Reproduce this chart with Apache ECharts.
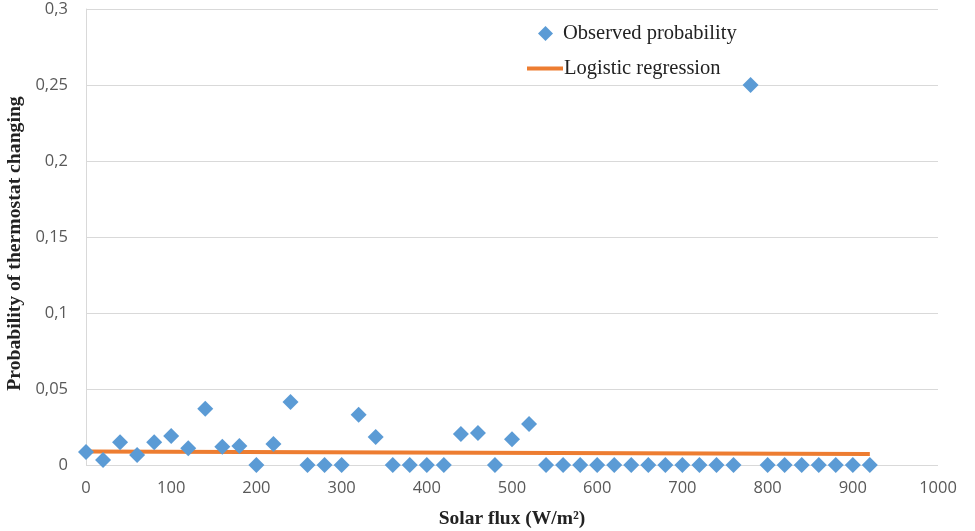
<!DOCTYPE html>
<html>
<head>
<meta charset="utf-8">
<script src="https://cdn.jsdelivr.net/npm/echarts@6/dist/echarts.min.js"></script>
<style>html,body{margin:0;padding:0;background:#fff}#c{width:975px;height:531px}</style>
</head>
<body>
<div id="c"></div>
<script>
const solarFlux = [0,20,40,60,80,100,120,140,160,180,200,220,240,260,280,300,320,340,360,380,400,420,440,460,480,500,520,540,560,580,600,620,640,660,680,700,720,740,760,780,800,820,840,860,880,900,920];
const observedProbability = [0.0085,0.0033,0.015,0.0066,0.015,0.019,0.011,0.037,0.012,0.0125,0,0.0138,0.0415,0,0,0,0.033,0.0185,0,0,0,0,0.0204,0.021,0,0.017,0.027,0,0,0,0,0,0,0,0,0,0,0,0,0.25,0,0,0,0,0,0,0];
const regressionFlux = [0,460,920];
const regressionValues = [0.0088,0.0080,0.0072];
const yTickLabels = {0:'0',0.05:'0,05',0.1:'0,1',0.15:'0,15',0.2:'0,2',0.25:'0,25',0.3:'0,3'};

const chart = echarts.init(document.getElementById('c'));
chart.setOption({
  animation:false,
  backgroundColor:'#fff',
  grid:{left:86,right:37,top:9,bottom:66,outerBoundsMode:'none',containLabel:false},
  legend:[
    {data:['Observed probability'],left:533,top:18,itemWidth:15,itemHeight:15,
     textStyle:{fontFamily:'Liberation Serif',fontSize:20.5,color:'#222',padding:[0,0,0,5]}},
    {data:[{name:'Logistic regression',icon:'rect'}],left:522,top:53,itemWidth:36,itemHeight:4,
     textStyle:{fontFamily:'Liberation Serif',fontSize:20.5,color:'#222',padding:[0,0,0,-4]}}
  ],
  xAxis:{type:'value',min:0,max:1000,interval:100,
    name:'Solar flux (W/m²)',nameLocation:'middle',nameGap:44,
    nameTextStyle:{fontFamily:'Liberation Serif',fontWeight:'bold',fontSize:19.5,color:'#222'},
    axisLine:{show:false},axisTick:{show:false},splitLine:{show:false},
    axisLabel:{fontFamily:'Open Sans',fontSize:16.5,color:'#595959',margin:15,formatter:v=>String(v)}},
  yAxis:{type:'value',min:0,max:0.3,interval:0.05,
    name:'Probability of thermostat changing',nameLocation:'middle',nameGap:55,
    nameTextStyle:{fontFamily:'Liberation Serif',fontWeight:'bold',fontSize:19.7,color:'#222',padding:[0,13,0,0]},
    axisLine:{show:true,lineStyle:{color:'#d9d9d9'}},axisTick:{show:false},
    splitLine:{lineStyle:{color:'#d9d9d9',width:1}},
    axisLabel:{fontFamily:'Open Sans',fontSize:16.5,color:'#595959',margin:18,
      formatter:v=>yTickLabels[Math.round(v*100)/100] ?? String(v).replace('.',',')}},
  series:[
    {name:'Logistic regression',type:'line',data:regressionFlux.map((x,i)=>[x,regressionValues[i]]),
     symbol:'none',lineStyle:{color:'#ed7d31',width:4},itemStyle:{color:'#ed7d31'},z:2},
    {name:'Observed probability',type:'scatter',symbol:'diamond',symbolSize:16,
     data:solarFlux.map((x,i)=>[x,observedProbability[i]]),itemStyle:{color:'#5b9bd5',opacity:1},z:3}
  ]
});
</script>
</body>
</html>
